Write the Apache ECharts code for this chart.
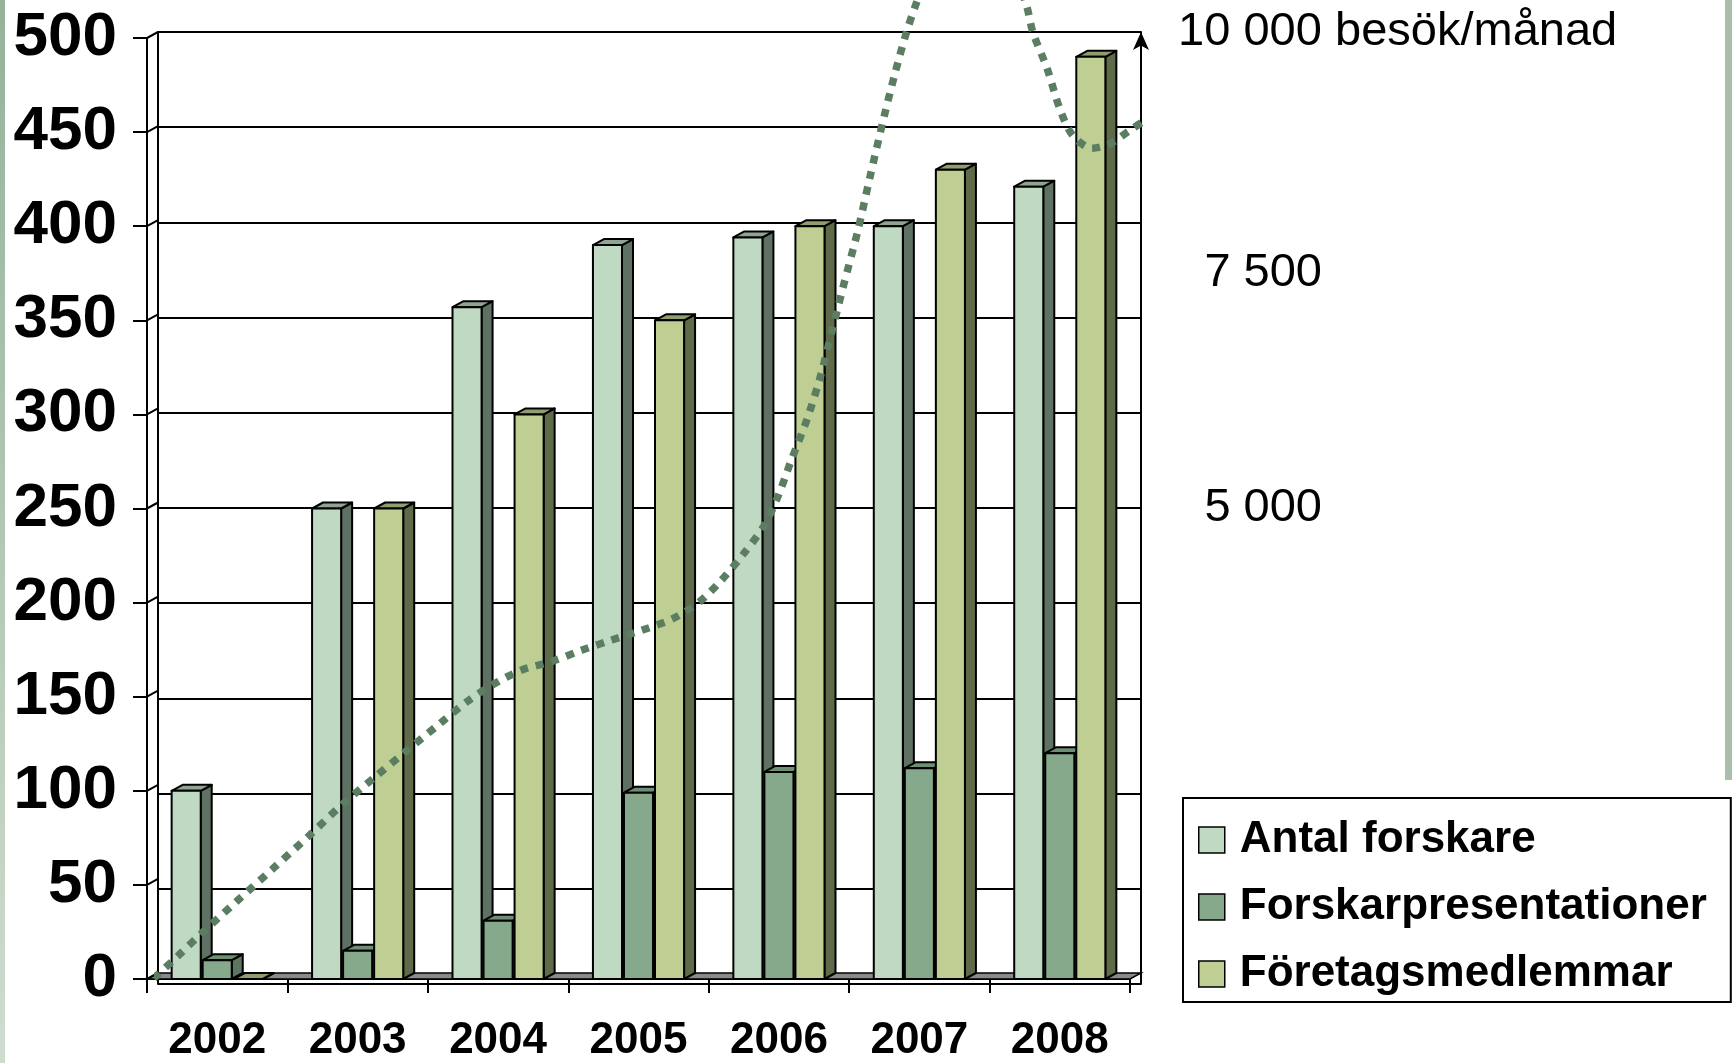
<!DOCTYPE html>
<html>
<head>
<meta charset="utf-8">
<script src="https://cdn.jsdelivr.net/npm/echarts@6/dist/echarts.min.js"></script>
<style>
  html, body { margin: 0; padding: 0; background: #ffffff; }
  #chart { width: 1732px; height: 1063px; }
</style>
</head>
<body>
<div id="chart"></div>
<script>
// ---------------- data ----------------
const years = ['2002', '2003', '2004', '2005', '2006', '2007', '2008'];
const antalForskare = [100, 250, 357, 390, 394, 400, 421];
const forskarpresentationer = [10, 15, 31, 99, 110, 112, 120];
const foretagsmedlemmar = [0, 250, 300, 350, 400, 430, 490];

const seriesNames = ['Antal forskare', 'Forskarpresentationer', 'Företagsmedlemmar'];

const leftTickValues = [0, 50, 100, 150, 200, 250, 300, 350, 400, 450, 500];
const rightTickValues = [5000, 7500, 10000];
const rightTickLabels = ['5 000', '7 500', '10 000'];
const rightAxisUnit = 'besök/månad';

// website visits per month (right axis), position along the year axis
const besokX = [2001.47, 2001.64, 2001.80, 2002.06, 2002.31, 2002.57, 2002.81, 2003.05, 2003.25, 2003.51,
  2003.70, 2003.88, 2004.09, 2004.30, 2004.52, 2004.73, 2004.95, 2005.17, 2005.36, 2005.51,
  2005.67, 2005.81, 2005.91, 2006.01, 2006.12, 2006.21, 2006.30, 2006.38, 2006.48, 2006.57,
  2006.67, 2006.75, 2006.83, 2006.90, 2007.05, 2007.29, 2007.50, 2007.68, 2007.73, 2007.83,
  2007.92, 2008.01, 2008.15, 2008.28, 2008.42, 2008.54];
const besokY = [60, 292, 519, 868, 1201, 1550, 1883, 2180, 2425, 2739,
  2966, 3141, 3298, 3386, 3508, 3613, 3718, 3840, 4020, 4238,
  4519, 4800, 5104, 5503, 5924, 6345, 6860, 7329, 7891, 8476,
  9108, 9576, 9997, 10302, 10870, 11220, 10950, 10302, 9997, 9623,
  9202, 8921, 8780, 8826, 8967, 9084];

// ---------------- styles ----------------
const FONT = 'Liberation Sans, Arial, sans-serif';
const DX = 11, DY = -6;           // 3D depth offset
const BAR_W = 0.207, BAR_PITCH = 0.221;
const barColors = [
  { front: '#c0d9c3', side: '#5f7163', top: '#8fa592' },
  { front: '#85a98a', side: '#5d7660', top: '#6f8f74' },
  { front: '#bfcf94', side: '#5e6a48', top: '#909d6c' }
];
const lineColor = '#5b7d61';

function makeBarRender(k, colors) {
  return function (params, api) {
    const idx = api.value(0), val = api.value(1);
    const top = api.coord([idx, val]);
    const base = api.coord([idx, 0]);
    const band = api.size([1, 0])[0];
    const w = band * BAR_W, pitch = band * BAR_PITCH;
    const xl = top[0] + k * pitch - w / 2, xr = xl + w;
    const yt = top[1], yb = base[1];
    const st = { stroke: '#000', lineWidth: 2, lineJoin: 'round' };
    return {
      type: 'group',
      children: [
        { type: 'polygon', shape: { points: [[xr, yt], [xr + DX, yt + DY], [xr + DX, yb + DY], [xr, yb]] },
          style: Object.assign({}, st, { fill: colors.side }) },
        { type: 'polygon', shape: { points: [[xl, yt], [xr, yt], [xr + DX, yt + DY], [xl + DX, yt + DY]] },
          style: Object.assign({}, st, { fill: colors.top }) },
        { type: 'rect', shape: { x: xl, y: yt, width: w, height: yb - yt },
          style: Object.assign({}, st, { fill: colors.front }) }
      ]
    };
  };
}

function floorRender(params, api) {
  const band = api.size([1, 0])[0];
  const a = api.coord([0, 0]);
  const b = api.coord([years.length - 1, 0]);
  const L = a[0] - band / 2, R = b[0] + band / 2, y = a[1];
  return {
    type: 'polygon',
    shape: { points: [[L, y], [R, y], [R + DX, y + DY], [L + DX, y + DY]] },
    style: { fill: '#8a8a8a', stroke: '#000', lineWidth: 1.5 }
  };
}

function wallRender(params, api) {
  const band = api.size([1, 0])[0];
  const p = api.coord([0, api.value(1)]);
  const xl = p[0] - band / 2;
  return {
    type: 'line',
    shape: { x1: xl, y1: p[1], x2: xl + DX, y2: p[1] + DY },
    style: { stroke: '#000', lineWidth: 2 }
  };
}

const allBars = [antalForskare, forskarpresentationer, foretagsmedlemmar];

const chart = echarts.init(document.getElementById('chart'), null, { renderer: 'canvas' });

const RFS = 47;
const option = {
  animation: false,
  backgroundColor: '#ffffff',
  graphic: [
    { type: 'rect', left: 0, top: 0, shape: { width: 5, height: 1063 },
      style: { fill: new echarts.graphic.LinearGradient(0, 0, 0, 1, [
        { offset: 0, color: '#94b399' }, { offset: 1, color: '#cfdccf' }]) }, silent: true },
    { type: 'rect', left: 1725, top: 0, shape: { width: 7, height: 780 },
      style: { fill: '#a9bfaa' }, silent: true }
  ],
  grid: [
    { left: 147, right: 602, top: 38, bottom: 73 },
    { left: 158, right: 591, top: 32, bottom: 79 }
  ],
  legend: {
    orient: 'vertical',
    left: 1183, top: 798,
    padding: [20, 24, 6, 15],
    itemGap: 23,
    itemWidth: 26, itemHeight: 26,
    borderColor: '#000', borderWidth: 2,
    backgroundColor: '#ffffff',
    textStyle: { fontSize: 44, fontWeight: 'bold', fontFamily: FONT, color: '#000', padding: [0, 0, 0, 10] },
    data: seriesNames.map((n, i) => ({
      name: n, icon: 'rect',
      itemStyle: { color: barColors[i].front, borderColor: '#000', borderWidth: 1.5 }
    }))
  },
  xAxis: [
    {
      type: 'category', gridIndex: 0, data: years,
      axisLine: { show: true, lineStyle: { color: '#000', width: 2 } },
      axisTick: { show: true, length: 14, lineStyle: { color: '#000', width: 2 } },
      axisLabel: { fontSize: 44, fontWeight: 'bold', fontFamily: FONT, color: '#000', margin: 40 },
      splitLine: { show: false }
    },
    { type: 'value', gridIndex: 1, min: 2001.5, max: 2008.5, show: false }
  ],
  yAxis: [
    {
      type: 'value', gridIndex: 0, min: 0, max: 500, interval: 50, position: 'left',
      axisLine: { show: true, lineStyle: { color: '#000', width: 2 } },
      axisTick: { show: true, length: 14, lineStyle: { color: '#000', width: 2 } },
      axisLabel: { fontSize: 62, fontWeight: 'bold', fontFamily: FONT, color: '#000', margin: 30 },
      splitLine: { show: false }
    },
    {
      type: 'value', gridIndex: 1, min: 0, max: 500, interval: 50, position: 'left',
      axisLine: { show: true, lineStyle: { color: '#000', width: 2 } },
      axisTick: { show: false }, axisLabel: { show: false },
      splitLine: { show: true, lineStyle: { color: '#000', width: 2 } }
    },
    {
      type: 'value', gridIndex: 1, min: 0, max: 10000, interval: 2500, position: 'right',
      axisLine: { show: true, symbol: ['none', 'arrow'], symbolSize: [12, 18],
        lineStyle: { color: '#000', width: 2 } },
      axisTick: { show: false }, axisLabel: { show: false },
      splitLine: { show: false }
    },
    {
      type: 'value', gridIndex: 0, min: 0, max: 10000, interval: 2500, position: 'right', offset: 11,
      axisLine: { show: false }, axisTick: { show: false }, splitLine: { show: false },
      axisLabel: {
        show: true, margin: 37, align: 'left',
        formatter: function (v) {
          const i = rightTickValues.indexOf(v);
          if (i < 0) return '';
          if (v === 10000) return '{m|' + rightTickLabels[i] + '}{s| ' + rightAxisUnit + '}';
          return '{n|' + rightTickLabels[i] + '}';
        },
        rich: {
          n: { fontSize: RFS, fontFamily: FONT, color: '#000', width: 144, align: 'right' },
          m: { fontSize: RFS, fontFamily: FONT, color: '#000', width: 144, align: 'right', padding: [0, 0, 12, 0] },
          s: { fontSize: RFS, fontFamily: FONT, color: '#000', padding: [0, 0, 12, 0] }
        }
      }
    }
  ],
  series: [
    {
      type: 'custom', name: 'floor', xAxisIndex: 0, yAxisIndex: 0, z: 2,
      renderItem: floorRender, data: [[0, 0]], silent: true
    },
    {
      type: 'custom', name: 'wall', xAxisIndex: 0, yAxisIndex: 0, z: 2,
      renderItem: wallRender, data: leftTickValues.map(v => [0, v]), silent: true
    }
  ].concat(allBars.map((vals, s) => ({
    type: 'custom', name: seriesNames[s], xAxisIndex: 0, yAxisIndex: 0, z: 3,
    itemStyle: { color: barColors[s].front, borderColor: '#000', borderWidth: 1.5 },
    renderItem: makeBarRender(s - 1, barColors[s]),
    encode: { x: 0, y: 1 },
    data: vals.map((v, i) => [i, v])
  }))).concat([
    {
      type: 'line', name: 'besök', xAxisIndex: 1, yAxisIndex: 2, z: 5,
      clip: false, smooth: 0.3, showSymbol: false, symbol: 'none',
      lineStyle: { color: lineColor, width: 7.5, type: [8, 8], cap: 'butt' },
      data: besokX.map((x, i) => [x, besokY[i]])
    }
  ])
};

chart.setOption(option);
</script>
</body>
</html>
